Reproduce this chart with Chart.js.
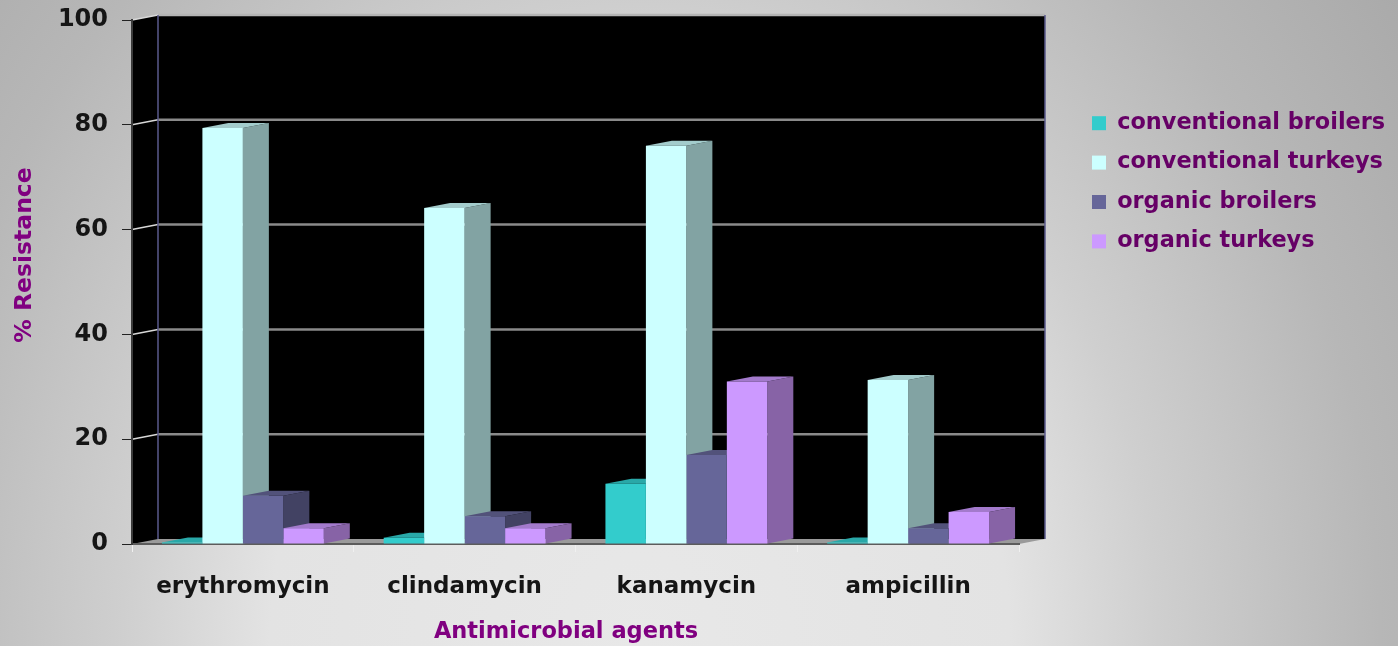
<!DOCTYPE html>
<html>
<head>
<meta charset="utf-8">
<title>% Resistance</title>
<script src="https://cdn.jsdelivr.net/npm/chart.js@4"></script>
<style>
	html, body { margin: 0; padding: 0; width: 1398px; height: 646px; overflow: hidden; }
	body { background: radial-gradient(ellipse 925px 1125px at 640px 646px, #e8e8e8 0%, #e3e3e3 40%, #cfcfcf 56%, #b7b7b7 80%, #aaaaaa 100%); }
	canvas { display: block; }
</style>
</head>
<body>
<canvas id="barchart" width="1398" height="646"></canvas>
<script>
// Données du graphique
const agents = ['erythromycin', 'clindamycin', 'kanamycin', 'ampicillin'];
const conventionalBroilers = [0.3, 1.2, 11.5, 0.3];
const conventionalTurkeys = [79.4, 64.1, 76, 31.3];
const organicBroilers = [9.2, 5.3, 17, 3];
const organicTurkeys = [3, 3, 31, 6.1];
const yTitle = '% Resistance';
const xTitle = 'Antimicrobial agents';

// Profondeur de l'effet 3D
const depthX = 26;
const depthY = -5;

const fontName = '"DejaVu Sans", sans-serif';

/*
Ce plugin dessine le décor 3D : mur du fond, mur gauche, sol et lignes de grille
*/
const wallsPlugin = {
	id: 'walls',
	// La légende est plafonnée par la mise en page : on lui donne une largeur fixe
	beforeUpdate(chart) {
		const legend = chart.legend;
		if (legend.fitWrapped) return;
		const fit = legend.fit;
		legend.fit = function () {
			this.maxWidth = 323;
			fit.call(this);
			this.width = 323;
		};
		legend.fitWrapped = true;
	},
	beforeDraw(chart) {
		const ctx = chart.ctx;
		const { left, right, top, bottom } = chart.chartArea;
		const scale = chart.scales.y;

		ctx.save();
		// Mur du fond et mur gauche
		ctx.fillStyle = '#000000';
		ctx.beginPath();
		ctx.moveTo(left, top);
		ctx.lineTo(left + depthX, top + depthY);
		ctx.lineTo(right + depthX, top + depthY);
		ctx.lineTo(right + depthX, bottom + depthY);
		ctx.lineTo(left, bottom);
		ctx.closePath();
		ctx.fill();

		// Sol
		ctx.fillStyle = '#9a9a9a';
		ctx.beginPath();
		ctx.moveTo(left, bottom);
		ctx.lineTo(left + depthX, bottom + depthY);
		ctx.lineTo(right + depthX, bottom + depthY);
		ctx.lineTo(right, bottom);
		ctx.closePath();
		ctx.fill();

		// Lignes de grille sur le fond, avec leur retour sur le mur gauche
		scale.ticks.forEach((tick) => {
			if (tick.value === 0) return;
			const y = scale.getPixelForValue(tick.value);
			ctx.strokeStyle = tick.value === 100 ? '#b4b4b4' : '#8a8a8a';
			ctx.lineWidth = 2.5;
			ctx.beginPath();
			ctx.moveTo(left + depthX, y + depthY);
			ctx.lineTo(right + depthX, y + depthY);
			ctx.stroke();
			ctx.strokeStyle = '#d8d8d8';
			ctx.lineWidth = 1.5;
			ctx.beginPath();
			ctx.moveTo(left, y);
			ctx.lineTo(left + depthX, y + depthY);
			ctx.stroke();
		});

		// Arêtes du mur du fond
		ctx.strokeStyle = '#5a5a8c';
		ctx.lineWidth = 1.5;
		ctx.beginPath();
		ctx.moveTo(left + depthX, top + depthY);
		ctx.lineTo(left + depthX, bottom + depthY);
		ctx.moveTo(right + depthX, top + depthY);
		ctx.lineTo(right + depthX, bottom + depthY);
		ctx.stroke();
		ctx.restore();
	},
	// Faces latérales et dessus des barres, de gauche à droite ; la face avant reste celle de Chart.js
	beforeDatasetsDraw(chart) {
		const ctx = chart.ctx;
		ctx.save();
		agents.forEach((agent, index) => {
			chart.data.datasets.forEach((dataset, datasetIndex) => {
				const bar = chart.getDatasetMeta(datasetIndex).data[index];
				const x0 = bar.x - bar.width / 2;
				const x1 = bar.x + bar.width / 2;

				ctx.fillStyle = dataset.sideColor;
				ctx.beginPath();
				ctx.moveTo(x1, bar.y);
				ctx.lineTo(x1 + depthX, bar.y + depthY);
				ctx.lineTo(x1 + depthX, bar.base + depthY);
				ctx.lineTo(x1, bar.base);
				ctx.closePath();
				ctx.fill();

				ctx.fillStyle = dataset.topColor;
				ctx.beginPath();
				ctx.moveTo(x0, bar.y);
				ctx.lineTo(x0 + depthX, bar.y + depthY);
				ctx.lineTo(x1 + depthX, bar.y + depthY);
				ctx.lineTo(x1, bar.y);
				ctx.closePath();
				ctx.fill();
			});
		});
		ctx.restore();
	},
	// Titres des axes
	afterDraw(chart) {
		const ctx = chart.ctx;
		ctx.save();
		ctx.fillStyle = '#800080';
		ctx.textAlign = 'center';
		ctx.textBaseline = 'middle';
		ctx.font = 'bold 22.5px ' + fontName;
		ctx.fillText(xTitle, 566, 632);
		ctx.font = 'bold 23.5px ' + fontName;
		ctx.translate(25, 255);
		ctx.rotate(-Math.PI / 2);
		ctx.fillText(yTitle, 0, 0);
		ctx.restore();
	}
};

new Chart(document.getElementById('barchart'), {
	type: 'bar',
	data: {
		labels: agents,
		datasets: [
			{
				label: 'conventional broilers',
				data: conventionalBroilers,
				backgroundColor: '#33CCCC',
				sideColor: '#1f8080',
				topColor: '#29a8a8'
			},
			{
				label: 'conventional turkeys',
				data: conventionalTurkeys,
				backgroundColor: '#CCFFFF',
				sideColor: '#82A3A3',
				topColor: '#a3cccc'
			},
			{
				label: 'organic broilers',
				data: organicBroilers,
				backgroundColor: '#666699',
				sideColor: '#424263',
				topColor: '#52527a'
			},
			{
				label: 'organic turkeys',
				data: organicTurkeys,
				backgroundColor: '#CC99FF',
				sideColor: '#8763A6',
				topColor: '#a37acc'
			}
		]
	},
	plugins: [wallsPlugin],
	options: {
		responsive: false,
		animation: false,
		categoryPercentage: 0.73,
		barPercentage: 1,
		layout: {
			autoPadding: false,
			padding: { top: 20, right: 0, bottom: 0, left: 0 }
		},
		scales: {
			x: {
				grid: {
					drawOnChartArea: false,
					color: '#f0f0f0',
					tickLength: 8
				},
				border: { color: '#5c5c5c', width: 2 },
				ticks: {
					color: '#151515',
					padding: 21,
					maxRotation: 0,
					font: { family: fontName, weight: 'bold', size: 23 }
				},
				afterFit(scale) {
					scale.height = 102;
				}
			},
			y: {
				min: 0,
				max: 100,
				grid: {
					drawOnChartArea: false,
					color: '#222222',
					tickLength: 10
				},
				border: { color: '#3c3c3c', width: 2 },
				ticks: {
					stepSize: 20,
					color: '#151515',
					padding: 14,
					font: { family: fontName, weight: 'bold', size: 24 }
				},
				afterFit(scale) {
					scale.width = 132;
					// Le haut du graphique ne doit pas dépendre de la hauteur des étiquettes
					scale.paddingTop = 0;
					scale.paddingBottom = 0;
				}
			},
			// Axe vide qui réserve l'espace entre le graphique et la légende
			legendGap: {
				position: 'right',
				min: 0,
				max: 1,
				ticks: { display: false },
				grid: { display: false },
				border: { display: false },
				afterFit(scale) {
					scale.width = 56;
					scale.paddingTop = 0;
					scale.paddingBottom = 0;
				}
			}
		},
		plugins: {
			legend: {
				position: 'right',
				align: 'start',
				title: {
					display: true,
					text: '',
					font: { size: 10 },
					padding: { top: 63, bottom: 0 }
				},
				labels: {
					boxWidth: 14,
					boxHeight: 14,
					padding: 17,
					color: '#660066',
					font: { family: fontName, weight: 'bold', size: 22.4 }
				}
			},
			tooltip: { enabled: false }
		}
	}
});
</script>
</body>
</html>
